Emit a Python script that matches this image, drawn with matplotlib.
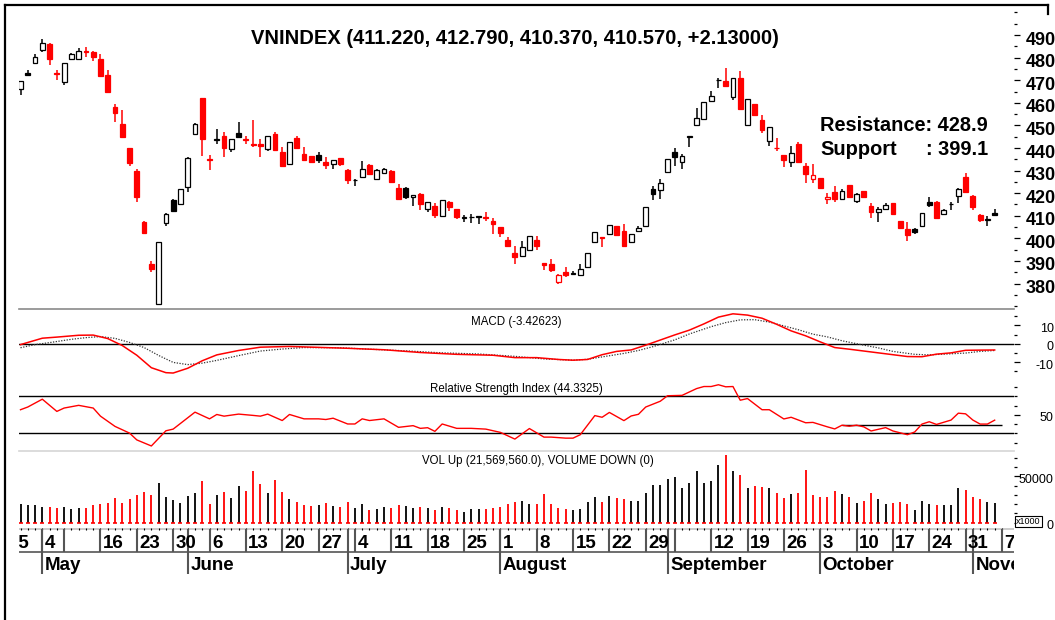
import numpy as np
import pandas as pd
import matplotlib
matplotlib.use('Agg')
import matplotlib.pyplot as plt
from matplotlib import transforms as mtransforms
from matplotlib.lines import Line2D

plt.rcParams['font.family'] = ['Liberation Sans', 'DejaVu Sans']
plt.rcParams['axes.unicode_minus'] = False

W, H = 1055, 620

# HOSE trading calendar 2011 (Apr 25 .. Nov 7), holidays removed
days = pd.bdate_range('2011-04-25', '2011-11-07')
days = days.drop(pd.to_datetime(['2011-05-02', '2011-05-03', '2011-09-02']))
first_bar = days.get_loc(pd.Timestamp('2011-04-27'))

opens = [466.1, 473.1, 477.5, 483.4, 486.1, 473.1, 469.0, 479.3, 479.3, 483.1,
         482.4, 479.3, 472.4, 458.1, 450.8, 440.1, 429.8, 407.3, 388.7, 371.1,
         406.6, 417.0, 415.1, 422.9, 446.4, 462.1, 435.2, 443.5, 445.5, 439.7,
         446.7, 443.9, 441.7, 441.7, 439.7, 446.0, 438.2, 432.7, 444.5, 437.2,
         436.4, 436.9, 433.9, 433.0, 435.4, 430.2, 425.7, 427.3, 432.5, 426.4,
         428.8, 429.8, 422.2, 422.2, 418.4, 419.8, 413.2, 414.4, 410.0, 416.2,
         412.9, 409.2, 409.3, 409.6, 409.3, 407.8, 405.1, 399.4, 393.5, 392.4,
         394.9, 399.3, 389.0, 388.7, 380.6, 385.0, 384.3, 383.6, 387.5, 398.2,
         400.7, 401.9, 405.3, 403.4, 398.5, 403.4, 405.6, 422.0, 421.4, 429.4,
         438.3, 433.8, 444.8, 450.1, 452.9, 460.9, 470.0, 469.5, 462.6, 470.9,
         450.1, 459.5, 452.3, 443.0, 440.2, 436.9, 433.9, 441.8, 432.0, 426.1,
         426.6, 417.3, 420.7, 417.6, 423.7, 416.6, 421.0, 414.4, 411.5, 413.2,
         415.7, 407.8, 404.1, 404.1, 405.3, 416.2, 416.2, 410.6, 415.0, 418.8,
         427.3, 418.8, 410.3, 408.2, 411.22]
highs = [469.5, 474.3, 481.5, 488.1, 486.6, 474.6, 477.5, 481.9, 484.1, 484.9,
         483.1, 481.6, 474.6, 459.6, 456.7, 440.2, 430.5, 407.8, 389.9, 398.3,
         411.1, 417.6, 421.7, 435.8, 450.9, 462.2, 436.7, 448.5, 447.0, 444.2,
         451.6, 445.5, 452.6, 443.8, 445.5, 447.1, 440.4, 442.7, 445.2, 440.5,
         436.5, 438.3, 436.0, 434.7, 435.7, 430.5, 426.4, 434.2, 433.0, 430.5,
         431.3, 430.1, 424.2, 422.9, 419.3, 420.3, 416.0, 415.6, 416.9, 416.6,
         413.0, 410.3, 410.7, 409.9, 411.5, 409.2, 405.2, 400.4, 396.8, 398.7,
         401.2, 400.9, 389.1, 390.9, 384.1, 387.2, 385.5, 388.7, 393.6, 403.0,
         400.8, 406.0, 405.4, 406.3, 402.0, 405.6, 413.8, 423.2, 426.1, 435.3,
         440.1, 437.2, 445.5, 457.7, 460.3, 465.1, 470.9, 475.3, 471.0, 473.9,
         461.9, 459.6, 454.8, 449.3, 444.5, 437.0, 440.8, 442.6, 433.5, 433.0,
         426.6, 420.3, 423.2, 421.7, 423.8, 420.3, 421.1, 415.6, 413.7, 415.6,
         415.8, 407.9, 407.1, 404.8, 411.3, 418.1, 416.6, 412.9, 415.9, 422.1,
         428.8, 419.2, 411.0, 409.7, 412.79]
lows = [463.6, 471.7, 477.1, 482.7, 476.8, 470.2, 467.7, 479.0, 479.0, 480.2,
        478.7, 471.4, 464.3, 451.5, 444.7, 432.0, 415.9, 401.9, 385.3, 370.6,
        405.6, 411.7, 414.7, 420.6, 446.0, 436.4, 430.2, 441.6, 436.0, 438.2,
        444.7, 441.9, 440.5, 436.1, 438.5, 438.6, 431.7, 432.5, 439.4, 434.2,
        433.3, 433.5, 430.8, 430.8, 432.0, 423.9, 423.2, 427.2, 427.9, 426.1,
        428.7, 424.4, 416.9, 417.3, 414.4, 412.6, 411.5, 409.2, 409.9, 412.2,
        408.5, 407.3, 407.0, 406.3, 407.8, 401.9, 400.4, 396.0, 388.7, 392.3,
        394.7, 395.0, 385.8, 385.3, 379.9, 382.8, 383.6, 383.5, 387.4, 397.8,
        396.0, 401.8, 401.3, 396.6, 397.8, 403.3, 405.5, 417.0, 417.6, 429.3,
        432.0, 430.8, 440.5, 450.0, 452.8, 460.8, 466.5, 467.2, 461.4, 457.3,
        450.0, 454.4, 446.7, 441.1, 438.6, 431.7, 431.7, 433.5, 424.7, 424.4,
        422.0, 415.1, 416.2, 417.5, 418.4, 415.6, 418.0, 409.2, 407.3, 413.1,
        410.9, 404.3, 399.0, 401.9, 405.2, 414.1, 408.8, 410.5, 412.6, 415.6,
        420.3, 412.6, 407.1, 405.6, 410.37]
closes = [469.5, 472.5, 480.2, 486.3, 479.3, 472.7, 477.5, 481.5, 483.1, 482.5,
          480.2, 472.0, 464.6, 455.5, 444.9, 433.5, 418.1, 402.6, 386.5, 398.2,
          411.0, 412.2, 421.7, 435.7, 450.8, 444.0, 434.5, 443.8, 440.1, 444.1,
          444.9, 443.5, 441.3, 441.1, 445.5, 439.1, 432.0, 442.7, 440.1, 434.9,
          433.8, 434.6, 432.5, 434.6, 432.7, 425.8, 425.9, 430.8, 428.6, 430.1,
          430.5, 425.1, 417.6, 418.1, 419.2, 415.1, 415.9, 410.3, 416.9, 413.7,
          409.3, 409.5, 409.6, 409.7, 409.2, 406.3, 402.3, 396.8, 391.6, 396.0,
          400.9, 396.8, 388.3, 386.2, 384.0, 383.8, 384.6, 386.5, 393.5, 402.9,
          400.1, 405.9, 401.5, 396.8, 401.9, 404.8, 413.7, 419.5, 424.7, 435.2,
          436.0, 436.4, 445.1, 453.3, 460.2, 463.1, 470.3, 467.3, 470.9, 457.4,
          461.8, 454.5, 447.9, 449.2, 439.9, 434.6, 437.6, 433.8, 428.3, 427.9,
          422.2, 418.1, 417.6, 421.0, 418.5, 419.8, 418.1, 411.5, 412.9, 414.7,
          411.0, 404.4, 401.5, 402.9, 411.2, 414.8, 409.2, 412.5, 415.3, 422.0,
          420.7, 414.1, 408.3, 408.44, 410.57]
# volume in thousands of shares
volumes = [20390, 18560, 18930, 16740, 17100, 16000, 17100, 14910, 16000, 16000,
           18560, 19660, 21490, 26970, 21490, 25880, 29900, 33190, 29900, 42330,
           28070, 24410, 20760, 28800, 31730, 44530, 19660, 29540, 33190, 26970,
           39040, 34290, 55130, 41600, 31730, 45990, 33190, 25150, 22590, 18560,
           17830, 18560, 20760, 17830, 17100, 22590, 16000, 20390, 14170, 14910,
           17100, 16000, 18930, 17830, 16000, 16740, 15270, 13440, 16740, 16000,
           13440, 11620, 14910, 14910, 14910, 16000, 17100, 20390, 22220, 23320,
           20390, 20390, 31360, 20390, 16000, 14910, 13440, 14910, 22220, 27710,
           22220, 28800, 26240, 25150, 23320, 23320, 32460, 40510, 40870, 47090,
           49650, 36850, 42330, 55500, 42330, 45260, 62450, 72690, 55500, 51480,
           36850, 39040, 37950, 36850, 32460, 26970, 30630, 32460, 56960, 29540,
           27710, 27710, 34290, 30630, 27710, 21490, 23320, 32460, 25150, 20390,
           21490, 22220, 19660, 14170, 23320, 20390, 18930, 18930, 18930, 36850,
           35390, 27710, 25150, 22220, 21570]

macd_bar = [0, 3, 5, 8, 10, 12, 14, 16, 18, 20, 21, 23, 25, 27, 30, 33, 37, 41, 45, 50,
            55, 60, 65, 68, 71, 74, 76, 78, 80, 82, 84, 86, 88, 90, 92, 94, 96, 98, 100, 102,
            104, 106, 108, 110, 112, 114, 117, 120, 122, 124, 126, 128, 130, 132, 134]
macd_val = [-0.5, 3.0, 3.6, 4.6, 4.7, 2.8, -1.0, -6.3, -13.1, -15.8, -16.0, -13.4, -9.3, -6.1,
            -3.7, -1.9, -1.5, -2.0, -2.5, -3.3, -4.8, -5.8, -6.3, -7.6, -7.6, -8.6, -9.0, -8.6,
            -6.0, -4.2, -3.4, -0.8, 2.0, 4.8, 7.4, 10.8, 14.5, 16.3, 15.6, 13.9, 10.6, 7.0, 4.3,
            1.0, -2.1, -3.0, -4.5, -6.0, -7.0, -7.1, -5.7, -5.0, -3.6, -3.5, -3.43]
sig_bar = [0, 2, 4, 7, 9, 11, 13, 15, 17, 19, 21, 23, 25, 27, 30, 33, 36, 39, 44, 48,
           53, 58, 63, 68, 72, 76, 78, 80, 83, 85, 87, 90, 92, 95, 97, 99, 101, 103, 105, 107,
           109, 111, 113, 116, 118, 120, 123, 125, 128, 130, 132, 134]
sig_val = [-2.2, -0.5, 0.6, 2.4, 3.3, 3.9, 2.9, 0.7, -2.1, -6.4, -10.2, -11.4, -10.6, -9.1,
           -6.5, -4.0, -2.9, -2.1, -2.2, -3.0, -3.9, -5.0, -5.6, -6.9, -8.3, -9.0, -8.5, -7.2,
           -5.3, -3.7, -1.6, 2.1, 5.3, 9.3, 11.5, 13.0, 13.1, 11.8, 9.7, 7.6, 5.2, 3.7, 1.6,
           -0.8, -2.3, -4.2, -5.8, -6.1, -5.5, -5.1, -4.2, -3.7]
rsi_bar = [0, 1, 3, 5, 6, 8, 10, 11, 13, 15, 16, 18, 20, 21, 24, 26, 27, 28, 30, 32,
           33, 34, 36, 37, 39, 41, 42, 43, 45, 46, 47, 48, 50, 52, 54, 55, 56, 57, 58, 60,
           62, 64, 66, 68, 70, 72, 73, 75, 76, 77, 79, 80, 81, 83, 84, 85, 86, 88, 89, 91,
           93, 94, 95, 96, 97, 98, 99, 100, 102, 103, 105, 106, 108, 109, 111, 112, 113, 114,
           115, 116, 117, 119, 120, 122, 123, 124, 125, 126, 128, 129, 130, 131, 132, 133, 134]
rsi_val = [55.5, 58.4, 66.8, 53.7, 57.3, 60.2, 57.3, 48.6, 37.6, 30.4, 23.1, 16.6, 32.9, 34.7,
           52.9, 45.7, 50.4, 48.6, 50.8, 49.4, 48.6, 50.8, 43.9, 50.4, 45.7, 45.7, 45.0, 46.4,
           40.2, 40.2, 45.7, 43.9, 45.7, 36.6, 38.4, 35.5, 36.2, 32.3, 40.2, 35.5, 35.5, 34.7,
           31.2, 24.0, 35.3, 26.1, 26.1, 25.0, 25.0, 28.7, 49.2, 47.4, 52.6, 43.8, 48.8, 50.6,
           58.4, 64.6, 70.5, 70.9, 78.2, 80.4, 80.4, 82.3, 80.1, 80.4, 65.7, 67.5, 55.5, 55.5,
           45.6, 47.4, 41.5, 41.9, 37.1, 34.9, 38.9, 37.8, 38.9, 37.1, 32.7, 36.3, 32.7, 28.7,
           31.6, 40.1, 42.6, 39.7, 44.4, 51.8, 51.1, 44.4, 40.1, 40.1, 44.3]
rsi_trend = (113, 135, 39.0)  # from bar, to bar, level
resistance, support = 428.9, 399.1

fig = plt.figure(figsize=(W / 100, H / 100), dpi=100)
XL = (2 + (19 - 20.5) / 7.27, 2 + (1014 - 20.5) / 7.27)


def panel(top, bottom, left=19, right=1014):
    ax = fig.add_axes([left / W, 1 - bottom / H, (right - left) / W, (bottom - top) / H])
    ax.set_xlim(XL)
    ax.set_facecolor('none')
    for s in ax.spines.values():
        s.set_visible(False)
    ax.set_xticks([])
    ax.yaxis.tick_right()
    return ax


def ftext(x, y, s, **kw):
    return fig.text(x / W, 1 - y / H, s, **kw)


def shift_labels(ax, dy_px):
    off = mtransforms.ScaledTranslation(0, -dy_px / 100, fig.dpi_scale_trans)
    for lab in ax.get_yticklabels():
        lab.set_transform(lab.get_transform() + off)


o, h, l, c = map(np.array, (opens, highs, lows, closes))
prev = np.r_[c[0], c[:-1]]
col = np.where(c >= prev, 'black', 'red')
face = np.where(c >= o, 'white', col)
xb = np.arange(len(c)) + first_bar

# price panel
ax_p = panel(8, 308.5)
ax_p.set_ylim(368.98, 501.95)
ax_p.vlines(xb, l, h, colors=col, lw=1.1, zorder=2)
ax_p.bar(xb, np.maximum(np.abs(c - o), 0.2), bottom=np.minimum(o, c), width=0.66,
         color=face, edgecolor=col, linewidth=0.9, zorder=3)
ax_p.set_yticks(np.arange(380, 491, 10))
ax_p.set_yticks(np.arange(370, 501, 5), minor=True)
ax_p.tick_params(axis='y', which='major', length=4.6, width=0.9, pad=3.6,
                 labelsize=13)
ax_p.tick_params(axis='y', which='minor', length=2.4, width=0.9)
for lab in ax_p.get_yticklabels():
    lab.set_fontweight('bold')
shift_labels(ax_p, 3)

# MACD panel
ax_m = panel(308.5, 380)
ax_m.set_ylim(-19.8, 19.2)
ax_m.axhline(0, color='black', lw=1)
ax_m.plot(first_bar + np.array(sig_bar), sig_val, color='#333333', lw=0.9,
          ls=(0, (1, 1.2)))
ax_m.plot(first_bar + np.array(macd_bar), macd_val, color='red', lw=1.1)
ax_m.set_yticks([-10, 0, 10])
ax_m.set_yticks([-15, -5, 5, 15], minor=True)

# RSI panel
ax_r = panel(380, 451)
ax_r.set_ylim(11.2, 87.4)
ax_r.axhline(70, color='black', lw=1)
ax_r.axhline(30, color='black', lw=1)
ax_r.hlines(rsi_trend[2], first_bar + rsi_trend[0], first_bar + rsi_trend[1],
            color='black', lw=1)
ax_r.plot(first_bar + np.array(rsi_bar), rsi_val, color='red', lw=1)
ax_r.set_yticks([50])
ax_r.set_yticks([20, 30, 40, 60, 70, 80], minor=True)

# volume panel
ax_v = panel(451, 522.7)
ax_v.set_ylim(0, 77100)
ax_v.vlines(xb, 0, volumes, colors=col, lw=1.3)
ax_v.plot(xb, np.zeros(len(xb)), ls='none', marker='_', ms=2.8, mew=1.2, color='red')
ax_v.set_yticks([0, 50000])
ax_v.set_yticks(np.arange(10000, 80000, 10000), minor=True)

for ax in (ax_m, ax_r, ax_v):
    ax.tick_params(axis='y', which='major', length=4.6, width=0.9, pad=24, labelsize=9)
    ax.tick_params(axis='y', which='minor', length=2.4, width=0.9)
    for lab in ax.get_yticklabels():
        lab.set_horizontalalignment('right')
    shift_labels(ax, 2)

# date axis
ax_d = panel(522.7, 576)
ax_d.set_ylim(576, 522.7)
ax_d.set_yticks([])
pos = np.arange(len(days))
ax_d.axhline(529, color='#cccccc', lw=1.4)
ax_d.vlines(pos, 527.6, 530, color='black', lw=0.8)
monday = days - pd.to_timedelta(days.weekday, unit='D')
week_start = pos[np.r_[True, np.asarray(monday[1:] != monday[:-1])]]
month_start = pos[1:][np.asarray(days.month[1:] != days.month[:-1])]
ax_d.vlines(week_start, 529, 551.5, color='#555555', lw=1.5)
ax_d.vlines(month_start, 529, 574, color='#555555', lw=1.5)
ax_d.axhline(551.5, color='#555555', lw=1.2)
last = -99
for p in week_start:
    if p - last >= 5:
        ax_d.text(p + 0.34, 548, str(days[p].day), fontsize=13.5, fontweight='bold',
                  va='baseline', ha='left', clip_on=True)
        last = p
for p in month_start:
    ax_d.text(p + 0.34, 569.5, days[p].strftime('%B'), fontsize=13.5,
              fontweight='bold', va='baseline', ha='left', clip_on=True)

# separators
fig.add_artist(Line2D([19 / W, 1014 / W], [1 - 308.5 / H] * 2, color='#8a8a8a', lw=1.2))
fig.add_artist(Line2D([19 / W, 1014 / W], [1 - 451 / H] * 2, color='#d5d5d5', lw=1.2))

# texts
ftext(514.5, 43.5, 'VNINDEX (411.220, 412.790, 410.370, 410.570, +2.13000)',
      fontsize=14.5, fontweight='bold', ha='center', va='baseline')
ftext(820, 130.7, f'Resistance: {resistance}', fontsize=14.4, fontweight='bold',
      va='baseline')
ftext(820, 155, 'Support', fontsize=14.4, fontweight='bold', va='baseline')
ftext(988, 155, f': {support}', fontsize=14.4, fontweight='bold', va='baseline', ha='right')
ftext(516, 324.5, 'MACD (-3.42623)', fontsize=8.3, ha='center', va='baseline')
ftext(516.5, 392, 'Relative Strength Index (44.3325)', fontsize=8.3, ha='center',
      va='baseline')
ftext(537.5, 464, 'VOL Up (21,569,560.0), VOLUME DOWN (0)', fontsize=8.3, ha='center',
      va='baseline')
ftext(1028.5, 521.5, 'x1000', fontsize=6.5, ha='center', va='center',
      bbox=dict(boxstyle='square,pad=0.15', fc='white', ec='black', lw=0.8))

# outer frame
fig.add_artist(Line2D([5 / W, 5 / W], [0, 1 - 5 / H], color='black', lw=1.6))
fig.add_artist(Line2D([5 / W, 1048 / W], [1 - 5 / H] * 2, color='black', lw=1.6))
fig.add_artist(Line2D([1048 / W, 1048 / W], [1 - 5 / H, 1 - 14 / H], color='black', lw=1.6))

fig.savefig('out.png', dpi=100)
